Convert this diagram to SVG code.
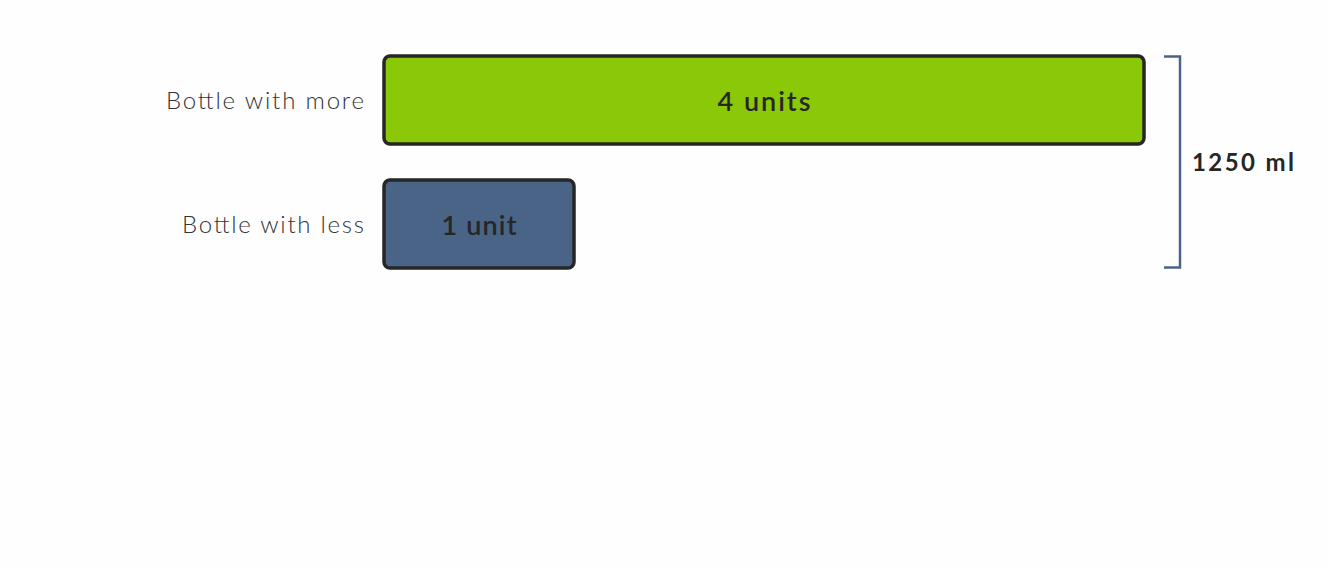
<svg xmlns="http://www.w3.org/2000/svg" width="1328" height="568" viewBox="0 0 1328 568">
<style>
.bar{stroke:#262626;stroke-width:3.5}
.lbl{font-family:Lato,"Liberation Sans",sans-serif;font-size:24px;font-weight:300;fill:#333;text-anchor:end}
.val{font-family:Lato,"Liberation Sans",sans-serif;font-size:27px;font-weight:600;fill:#262626;text-anchor:middle}
.tot{font-family:Lato,"Liberation Sans",sans-serif;font-size:24px;font-weight:700;fill:#262626}
</style>
<rect width="1328" height="568" fill="#fefefe"/>
<g id="more">
<text class="lbl" x="364" y="109" textLength="198" lengthAdjust="spacing">Bottle with more</text>
<rect class="bar" x="384" y="56" width="760" height="88" rx="6" fill="#8bc807"/>
<text class="val" x="764" y="111" textLength="93" lengthAdjust="spacing">4 units</text>
</g>
<g id="less">
<text class="lbl" x="364" y="233" textLength="182" lengthAdjust="spacing">Bottle with less</text>
<rect class="bar" x="384" y="180" width="190" height="88" rx="6" fill="#4a6487"/>
<text class="val" x="479" y="235" textLength="75" lengthAdjust="spacing">1 unit</text>
</g>
<g id="connectors">
<path d="M1164 56.5H1180V267.5H1164" fill="none" stroke="#4a6487" stroke-width="2.5"/>
</g>
<g id="total">
<text class="tot" x="1192" y="171" textLength="102" lengthAdjust="spacing">1250 ml</text>
</g>
</svg>
